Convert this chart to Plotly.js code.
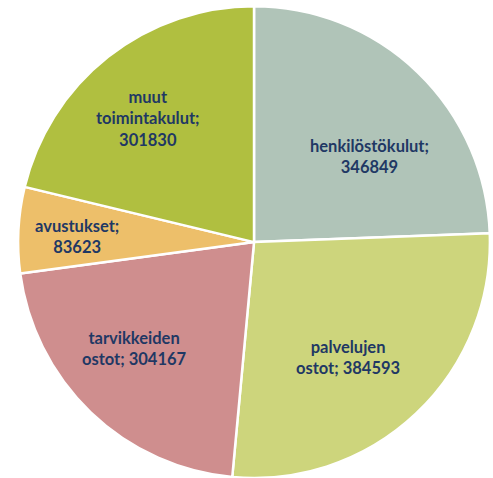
<!DOCTYPE html>
<html>
<head>
<meta charset="utf-8">
<script src="https://cdn.plot.ly/plotly-3.0.1.min.js"></script>
<style>html,body{margin:0;padding:0;background:#fff;}#chart{width:493px;height:478px;}</style>
</head>
<body>
<div id="chart"></div>
<script>
var categories = ["henkilöstökulut", "palvelujen ostot", "tarvikkeiden ostot", "avustukset", "muut toimintakulut"];
var values = [346849, 384593, 304167, 83623, 301830];
var labelLines = ["henkilöstökulut;<br>", "palvelujen<br>ostot; ", "tarvikkeiden<br>ostot; ", "avustukset;<br>", "muut<br>toimintakulut;<br>"];
var colors = ["#b0c4b8", "#cdd57c", "#cf8e8e", "#edbf6a", "#b0bf40"];

// label placement style (fraction of radius, angle nudge in degrees)
var labelRadius = [0.61, 0.63, 0.68, 0.75, 0.69];
var labelAngleShift = [9.5, 4.1, 4.4, -1.0, -2.6];

var W = 493, H = 478;
var dom = {x: [0.0345, 0.996], y: [0, 0.987]};

var texts = labelLines.map(function(l, i){ return l + values[i]; });

var total = values.reduce(function(a, b){ return a + b; }, 0);
var cx = (dom.x[0] + dom.x[1]) / 2 * W;
var cy = (1 - (dom.y[0] + dom.y[1]) / 2) * H;
var R = Math.min((dom.x[1] - dom.x[0]) * W, (dom.y[1] - dom.y[0]) * H) / 2;

var annotations = [];
var cum = 0;
values.forEach(function(v, i){
  var mid = (cum + v / 2) / total * 360 + labelAngleShift[i];
  cum += v;
  var a = mid * Math.PI / 180;
  var px = cx + R * labelRadius[i] * Math.sin(a);
  var py = cy - R * labelRadius[i] * Math.cos(a);
  annotations.push({
    xref: "paper", yref: "paper",
    x: px / W, y: 1 - py / H,
    xanchor: "center", yanchor: "middle",
    text: texts[i], showarrow: false, align: "center",
    font: {family: "Lato, 'Open Sans', sans-serif", size: 16.5, color: "#1f3864", weight: "bold"}
  });
});

var trace = {
  type: "pie",
  labels: categories,
  values: values,
  textinfo: "none",
  sort: false,
  direction: "clockwise",
  rotation: 0,
  marker: {colors: colors, line: {color: "#ffffff", width: 2.5}},
  domain: dom,
  hoverinfo: "label+value"
};

var layout = {
  width: W, height: H,
  margin: {l: 0, r: 0, t: 0, b: 0},
  showlegend: false,
  paper_bgcolor: "#ffffff",
  annotations: annotations
};

Plotly.newPlot("chart", [trace], layout, {displayModeBar: false, staticPlot: true});
</script>
</body>
</html>
